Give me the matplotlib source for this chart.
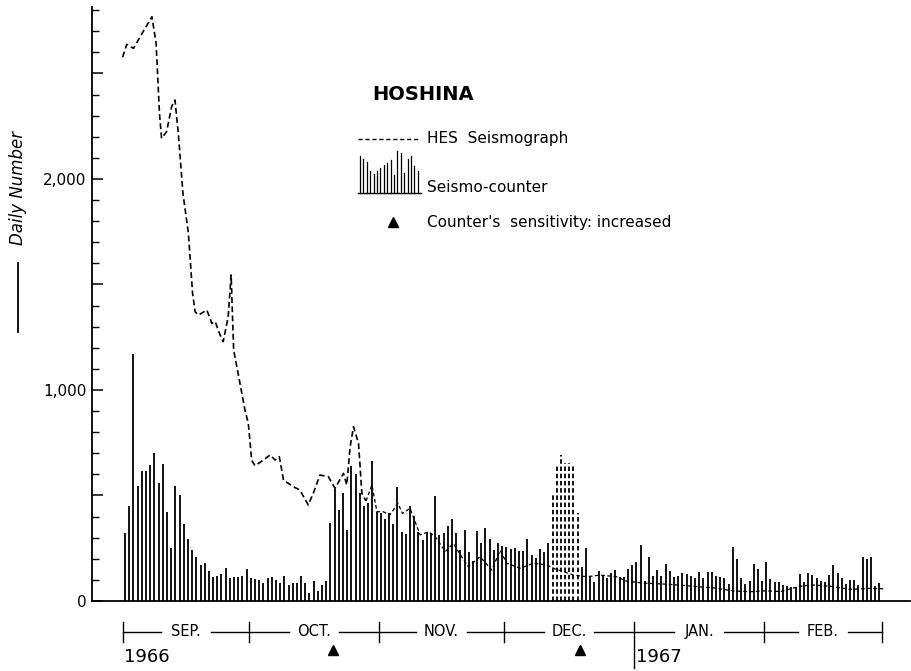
import matplotlib
matplotlib.use('Agg')
import matplotlib.pyplot as plt
from matplotlib.lines import Line2D
from matplotlib.ticker import MultipleLocator, FuncFormatter
import numpy as np

# day 0 = 1 Sep 1966, one bar per day up to 28 Feb 1967
counter = [
    322, 450, 1170, 545, 617, 617, 645, 700, 557, 649,
    423, 251, 545, 502, 365, 294, 242, 210, 171, 182,
    142, 115, 118, 130, 158, 109, 114, 115, 118, 152,
    110, 104, 100, 87, 109, 115, 100, 85, 118, 76,
    85, 85, 118, 85, 39, 96, 49, 76, 96, 372,
    532, 430, 510, 337, 638, 604, 512, 452, 463, 665,
    423, 415, 387, 418, 363, 541, 326, 316, 450, 404,
    328, 289, 326, 321, 499, 313, 324, 355, 387, 324,
    242, 336, 234, 191, 333, 276, 344, 294, 242, 273,
    261, 254, 246, 250, 239, 235, 292, 218, 202, 245,
    234, 273, None, None, None, None, None, None, None, 160,
    250, 118, 92, 142, 123, 107, 131, 147, 112, 112,
    153, 169, 185, 265, 96, 207, 120, 147, 120, 175,
    141, 112, 117, 131, 128, 117, 107, 136, 107, 136,
    136, 120, 112, 107, 81, 254, 199, 107, 81, 96,
    175, 152, 96, 186, 103, 92, 92, 76, 71, 65,
    68, 126, 92, 134, 123, 111, 95, 92, 123, 171,
    131, 111, 79, 100, 100, 76, 210, 199, 210, 73,
    84,
]

# counter out of order in mid December: dotted bars
dotted_days = [102, 103, 104, 105, 106, 107, 108]
dotted_vals = [510, 649, 692, 655, 652, 645, 415]

# HES seismograph daily number (smoothed curve)
hes_days = [-0.1, 0.9, 2.5, 4.8, 6.9, 7.9, 8.7, 9.2, 10.4, 11.6, 12.4, 13.2,
            14.3, 15.6, 16.6, 17.2, 18.0, 20.0, 21.2, 22.0, 23.0, 23.9, 25.1,
            25.8, 26.4, 27.9, 29.1, 29.9, 30.7, 31.5, 33.5, 35.1, 36.3, 37.3,
            38.3, 40.6, 42.2, 44.2, 45.4, 47.0, 49.0, 50.6, 52.6, 53.4, 54.2,
            55.0, 56.2, 57.0, 58.0]
hes_vals = [2577, 2638, 2619, 2698, 2769, 2643, 2311, 2193, 2224, 2343, 2374,
            2216, 1932, 1743, 1458, 1371, 1355, 1379, 1316, 1324, 1269, 1229,
            1347, 1545, 1190, 1033, 905, 842, 668, 641, 668, 692, 668, 684,
            573, 542, 526, 455, 510, 597, 589, 534, 605, 550, 731, 826, 747,
            510, 474]
hes_days2 = [58.0, 59.4, 60.6, 62.1, 63.7, 65.6, 66.7, 68.5, 69.7, 70.9, 72.9,
             74.5, 76.9, 78.8, 80.8, 82.4, 85.2, 88.0, 90.0, 91.6, 94.8, 97.9,
             101.1, 102.7, 105.1, 107.5, 110.7, 113.8, 117.8, 120, 124, 129.4,
             133, 137, 141, 145.5, 149.6, 153, 157, 161.5, 164.6, 168.7,
             173.5, 178.3, 181.4]
hes_vals2 = [474, 550, 423, 423, 408, 463, 415, 439, 376, 313, 328, 305, 234,
             273, 210, 163, 210, 147, 240, 179, 155, 179, 171, 155, 139, 123,
             115, 123, 115, 95, 85, 80, 75, 68, 62, 48, 44, 48, 45, 70, 76,
             70, 55, 60, 58]

month_starts = [0, 30, 61, 91, 122, 153, 181]
month_names = ['SEP.', 'OCT.', 'NOV.', 'DEC.', 'JAN.', 'FEB.']
sensitivity_days = [50, 109]

W, H = 912, 671


def fx(px):
    return px / W


def fy(py):
    return 1 - py / H


fig = plt.figure(figsize=(9.12, 6.71), dpi=100)
ax = fig.add_axes([fx(92), fy(601), 818 / W, 594 / H])

days = np.arange(len(counter)) + 0.5
vals = np.array([np.nan if v is None else v for v in counter], dtype=float)
ok = ~np.isnan(vals)
ax.vlines(days[ok], 0, vals[ok], color='black', lw=1.3)
ax.vlines(np.array(dotted_days) + 0.5, 0, dotted_vals, color='black',
          lw=1.3, linestyles=[(0, (2.5, 1.5))])

ax.plot(hes_days, hes_vals, color='black', lw=1.2, dashes=(3.5, 2))
ax.plot(hes_days2, hes_vals2, color='black', lw=0.9, dashes=(3, 2))

ax.set_xlim(-7.4, 187.8)
ax.set_ylim(0, 2815)
for s in ['top', 'right']:
    ax.spines[s].set_visible(False)
ax.spines['left'].set_linewidth(1.3)
ax.spines['bottom'].set_linewidth(1.3)
ax.set_xticks([])
ax.yaxis.set_major_locator(MultipleLocator(500))
ax.yaxis.set_minor_locator(MultipleLocator(100))
ax.yaxis.set_major_formatter(
    FuncFormatter(lambda v, p: '{:,}'.format(int(v)) if v % 1000 == 0 else ''))
ax.tick_params(axis='y', which='major', direction='in', length=8, width=1.1,
               labelsize=11, pad=4)
ax.tick_params(axis='y', which='minor', direction='in', length=5, width=1.0)

# month scale under the axis
tr = ax.get_xaxis_transform()
y_row = -0.052
gap = 6
for i, name in enumerate(month_names):
    a, b = month_starts[i], month_starts[i + 1]
    mid = (a + b) / 2
    ax.plot([a, mid - gap], [y_row, y_row], color='black', lw=1, transform=tr, clip_on=False)
    ax.plot([mid + gap, b], [y_row, y_row], color='black', lw=1, transform=tr, clip_on=False)
    ax.text(mid, y_row, name, transform=tr, ha='center', va='center', fontsize=10.5)
for i, d in enumerate(month_starts):
    low = -0.113 if i == 4 else -0.069
    ax.plot([d, d], [-0.035, low], color='black', lw=1, transform=tr, clip_on=False)
ax.text(0.2, -0.094, '1966', transform=tr, ha='left', va='center', fontsize=13)
ax.text(122.4, -0.094, '1967', transform=tr, ha='left', va='center', fontsize=13)
ax.plot(sensitivity_days, [-0.083] * len(sensitivity_days), ls='none', marker='^',
        ms=7, color='black', transform=tr, clip_on=False)

# y label with arrow shaft below it
fig.text(fx(18), fy(188), 'Daily Number', rotation=90, style='italic',
         ha='center', va='center', fontsize=12)
fig.add_artist(Line2D([fx(18), fx(18)], [fy(263), fy(332)], color='black', lw=1.3))

# legend block
fig.text(fx(372), fy(95), 'HOSHINA', fontsize=14, fontweight='bold',
         ha='left', va='center')
fig.add_artist(Line2D([fx(358), fx(420)], [fy(139), fy(139)],
                      color='black', lw=1, dashes=(3, 2)))
fig.text(fx(427), fy(138), 'HES  Seismograph', fontsize=11, ha='left', va='center')
legend_bars = [37, 34, 31, 22, 19, 22, 25, 28, 30, 33, 18, 42, 40, 20, 34, 37, 27, 22]
for k, h in enumerate(legend_bars):
    xx = fx(360 + k * 3.4)
    fig.add_artist(Line2D([xx, xx], [fy(193), fy(193 - h)], color='black', lw=0.9))
fig.add_artist(Line2D([fx(358), fx(421)], [fy(193), fy(193)], color='black', lw=1))
fig.text(fx(427), fy(187), 'Seismo-counter', fontsize=11, ha='left', va='center')
fig.add_artist(Line2D([fx(393)], [fy(222)], marker='^', ms=7, color='black', ls='none'))
fig.text(fx(427), fy(222), "Counter's  sensitivity: increased", fontsize=11,
         ha='left', va='center')

fig.savefig('out.png', dpi=100)
